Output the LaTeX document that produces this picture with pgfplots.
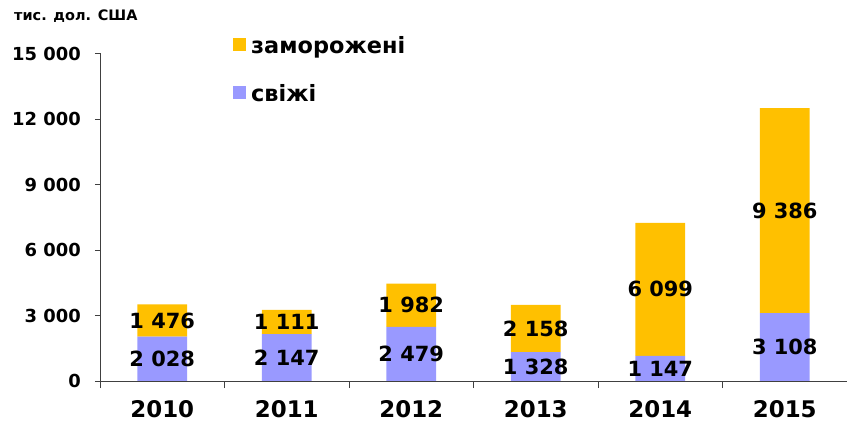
\documentclass[border=0pt]{standalone}
\usepackage{fontspec}
\setmainfont{DejaVu Sans}
\usepackage{pgfplots}
\pgfplotsset{compat=1.18}
\definecolor{frozen}{HTML}{FFC000}
\definecolor{fresh}{HTML}{9999FF}
\definecolor{axisgray}{HTML}{404040}
\begin{document}
\begin{tikzpicture}
\useasboundingbox (0,0) rectangle (847bp,424bp);
\pgfplotsset{commonaxis/.style={
  scale only axis, width=747bp, height=327.5bp,
  at={(100bp,43bp)}, anchor=south west,
  xmin=-0.5, xmax=5.5, ymin=0, ymax=15000,
  scaled y ticks=false},
  sqlegend/.style={legend image code/.code={\fill[##1,draw=none] (0bp,-3.75bp) rectangle (13bp,9.25bp);}}}
\begin{axis}[commonaxis,
  ybar stacked, bar width=0.4,
  axis lines*=left,
  axis line style={axisgray, line width=0.8bp},
  tick align=outside,
  xtick={0,...,5},
  xticklabels={2010,2011,2012,2013,2014,2015},
  minor xtick={-0.5,0.5,...,5.5},
  major x tick style={draw=none},
  minor x tick style={axisgray, line width=0.8bp},
  minor tick length=7bp,
  major tick length=5bp,
  ytick={0,3000,...,15000},
  yticklabels={0,3 000,6 000,9 000,12 000,15 000},
  major y tick style={axisgray, line width=0.8bp},
  xticklabel style={font=\bfseries\fontsize{23}{23}\selectfont, inner sep=0pt, anchor=north, yshift=-14.5bp},
  yticklabel style={font=\bfseries\fontsize{18}{18}\selectfont, inner sep=0pt, anchor=east, xshift=-14bp},
  reverse legend,
  sqlegend,
  legend style={draw=none, fill=none, inner sep=0pt, at={(0.17805,1.04733)}, anchor=north west,
    font=\bfseries\fontsize{22.5}{22.5}\selectfont, row sep=33bp, column sep=5bp,
    nodes={inner sep=0pt, text height=11.5bp, text depth=0pt}},
  legend cell align=left,
]
\addplot[fill=fresh, draw=none, sqlegend] coordinates {(0,2028) (1,2147) (2,2479) (3,1328) (4,1147) (5,3108)};
\addplot[fill=frozen, draw=none, sqlegend] coordinates {(0,1476) (1,1111) (2,1982) (3,2158) (4,6099) (5,9386)};
\legend{свіжі, заморожені}
\end{axis}
\begin{axis}[commonaxis, hide axis,
  point meta=explicit symbolic,
  every node near coord/.append style={anchor=center, inner sep=0pt, font=\bfseries\fontsize{21}{21}\selectfont, text=black},
]
\addplot[draw=none, mark=none, nodes near coords] coordinates {
  (0,1014) [2 028] (1,1073.5) [2 147] (2,1239.5) [2 479] (3,664) [1 328] (4,573.5) [1 147] (5,1554) [3 108]};
\addplot[draw=none, mark=none, nodes near coords] coordinates {
  (0,2766) [1 476] (1,2702.5) [1 111] (2,3470) [1 982] (3,2407) [2 158] (4,4196.5) [6 099] (5,7801) [9 386]};
\end{axis}
\node[anchor=base west, inner sep=0pt, font=\bfseries\fontsize{14.5}{14.5}\selectfont] at (14bp,403.3bp) {тис. дол. США};
\end{tikzpicture}
\end{document}
